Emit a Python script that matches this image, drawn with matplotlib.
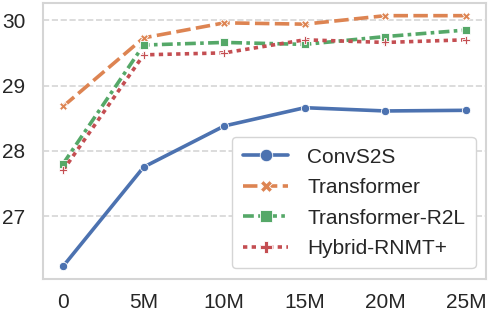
import matplotlib
matplotlib.use("Agg")
import matplotlib.pyplot as plt
import seaborn as sns

sns.set_theme(style="whitegrid")
plt.rcParams['font.family'] = ['Liberation Sans', 'DejaVu Sans']

x_labels = ["0", "5M", "10M", "15M", "20M", "25M"]
x_vals = [0, 5, 10, 15, 20, 25]

convs2s = [26.23, 27.75, 28.38, 28.66, 28.61, 28.62]
transformer = [28.68, 29.73, 29.96, 29.94, 30.07, 30.07]
transformer_r2l = [27.80, 29.62, 29.66, 29.63, 29.75, 29.85]
hybrid = [27.70, 29.47, 29.50, 29.70, 29.66, 29.70]

series = [
    ("ConvS2S", convs2s, "#4C72B0", "o", "-"),
    ("Transformer", transformer, "#DD8452", "X", (0, (4, 1.5))),
    ("Transformer-R2L", transformer_r2l, "#55A868", "s", (0, (3, 1.2, 1, 1.2))),
    ("Hybrid-RNMT+", hybrid, "#C44E52", "P", (0, (1.2, 1.2))),
]

fig, ax = plt.subplots(figsize=(4.88, 3.14), dpi=100)
for name, vals, color, marker, ls in series:
    ax.plot(x_vals, vals, label=name, color=color, marker=marker, linestyle=ls,
            linewidth=2.6, markersize=6, markeredgecolor="white", markeredgewidth=0.6)

ax.set_xticks(x_vals)
ax.set_xticklabels(x_labels)
ax.set_yticks([27, 28, 29, 30])
ax.tick_params(axis="y", labelsize=15, colors="#262626", length=0, pad=12.5)
ax.tick_params(axis="x", labelsize=15, colors="#262626", length=0, pad=10)
ax.grid(axis="x", visible=False)
ax.grid(axis="y", linestyle="--", color="#d5d5d5", linewidth=1.2)
for sp in ax.spines.values():
    sp.set_color("#d5d5d5")
    sp.set_linewidth(1.5)

ax.legend(loc="lower right", fontsize=15, markerscale=1.5, handlelength=2.2,
          handletextpad=0.9, labelspacing=0.55, borderpad=0.5, frameon=True,
          framealpha=1, edgecolor="#d5d5d5")

fig.subplots_adjust(left=0.088, right=0.996, top=0.99, bottom=0.112)
fig.savefig("out.png", dpi=100)
